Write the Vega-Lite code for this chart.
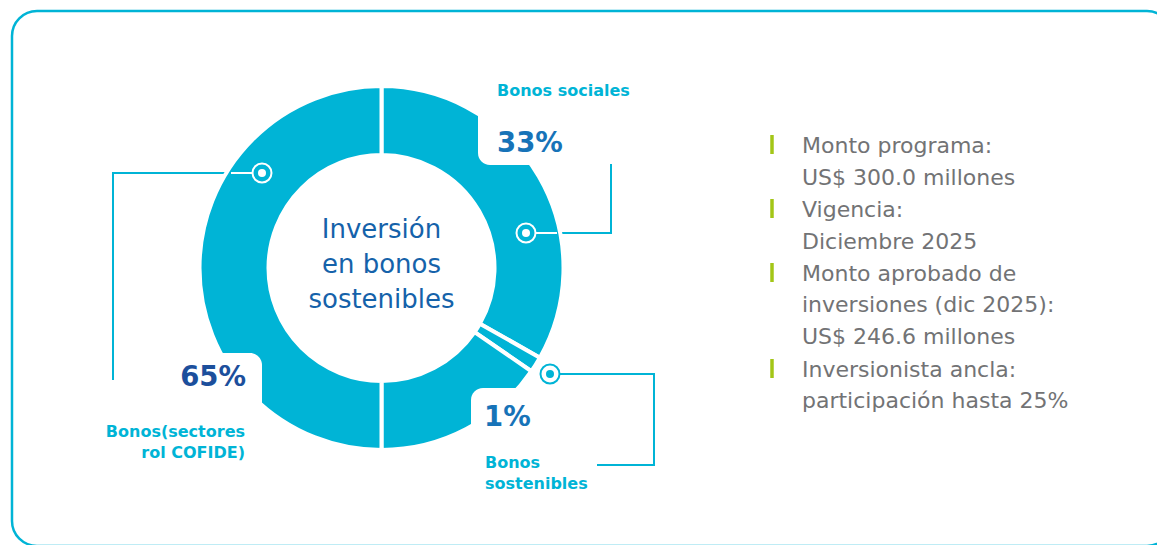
{
  "$schema": "https://vega.github.io/schema/vega-lite/v6.json",
  "width": 1160,
  "height": 535,
  "padding": {"left": 12, "top": 11, "right": 0, "bottom": 0},
  "autosize": {"type": "none"},
  "background": "#ffffff",
  "config": {
    "view": {"stroke": "#00b4d6", "strokeWidth": 2.5, "cornerRadius": 25},
    "axis": {"disable": true},
    "text": {"font": "DejaVu Sans"}
  },
  "datasets": {
    "segmentos": [
      {"orden": 1, "segmento": "Bonos sociales", "etiqueta": "33%", "valor": 33.2},
      {"orden": 2, "segmento": "Bonos\nsostenibles", "etiqueta": "1%", "valor": 1.4},
      {"orden": 3, "segmento": "Bonos(sectores\nrol COFIDE)", "etiqueta": "65%", "valor": 15.4},
      {"orden": 4, "segmento": "Bonos(sectores\nrol COFIDE)", "etiqueta": "65%", "valor": 50}
    ],
    "info": [
      {"item": 1, "texto": "Monto programa:\nUS$ 300.0 millones"},
      {"item": 2, "texto": "Vigencia:\nDiciembre 2025"},
      {"item": 3, "texto": "Monto aprobado de\ninversiones (dic 2025):\nUS$ 246.6 millones"},
      {"item": 4, "texto": "Inversionista ancla:\nparticipación hasta 25%"}
    ],
    "titulo": [{"texto": "Inversión\nen bonos\nsostenibles"}]
  },
  "layer": [
    {
      "data": {"name": "titulo"},
      "mark": {"type": "rule", "color": "#00b4d6", "strokeWidth": 2, "strokeCap": "square"},
      "encoding": {
        "x": {"datum": 113, "type": "quantitative", "scale": {"domain": [12, 1172], "zero": false, "nice": false}},
        "x2": {"datum": 240},
        "y": {"datum": 173, "type": "quantitative", "scale": {"domain": [11, 546], "zero": false, "nice": false, "reverse": true}}
      }
    },
    {
      "data": {"name": "titulo"},
      "mark": {"type": "rule", "color": "#00b4d6", "strokeWidth": 2, "strokeCap": "square"},
      "encoding": {"x": {"datum": 113, "type": "quantitative"}, "y": {"datum": 173, "type": "quantitative"}, "y2": {"datum": 379}}
    },
    {
      "data": {"name": "titulo"},
      "mark": {"type": "rule", "color": "#00b4d6", "strokeWidth": 2, "strokeCap": "square"},
      "encoding": {"x": {"datum": 545, "type": "quantitative"}, "x2": {"datum": 611}, "y": {"datum": 233, "type": "quantitative"}}
    },
    {
      "data": {"name": "titulo"},
      "mark": {"type": "rule", "color": "#00b4d6", "strokeWidth": 2, "strokeCap": "square"},
      "encoding": {"x": {"datum": 611, "type": "quantitative"}, "y": {"datum": 165, "type": "quantitative"}, "y2": {"datum": 233}}
    },
    {
      "data": {"name": "titulo"},
      "mark": {"type": "rule", "color": "#00b4d6", "strokeWidth": 2, "strokeCap": "square"},
      "encoding": {"x": {"datum": 561, "type": "quantitative"}, "x2": {"datum": 654}, "y": {"datum": 374, "type": "quantitative"}}
    },
    {
      "data": {"name": "titulo"},
      "mark": {"type": "rule", "color": "#00b4d6", "strokeWidth": 2, "strokeCap": "square"},
      "encoding": {"x": {"datum": 654, "type": "quantitative"}, "y": {"datum": 374, "type": "quantitative"}, "y2": {"datum": 465}}
    },
    {
      "data": {"name": "titulo"},
      "mark": {"type": "rule", "color": "#00b4d6", "strokeWidth": 2, "strokeCap": "square"},
      "encoding": {"x": {"datum": 598, "type": "quantitative"}, "x2": {"datum": 654}, "y": {"datum": 465, "type": "quantitative"}}
    },
    {
      "data": {"name": "segmentos"},
      "mark": {"type": "arc", "innerRadius": 113, "outerRadius": 182, "color": "#00b4d6", "stroke": "#ffffff", "strokeWidth": 4},
      "encoding": {
        "theta": {"field": "valor", "type": "quantitative", "stack": true},
        "order": {"field": "orden", "type": "quantitative"},
        "x": {"datum": 381.5, "type": "quantitative"},
        "y": {"datum": 268, "type": "quantitative"},
        "tooltip": [{"field": "segmento"}, {"field": "etiqueta"}]
      }
    },
    {
      "data": {"name": "titulo"},
      "mark": {"type": "rect", "color": "#ffffff", "cornerRadius": 12},
      "encoding": {"x": {"datum": 478, "type": "quantitative"}, "x2": {"datum": 600}, "y": {"datum": 40, "type": "quantitative"}, "y2": {"datum": 165}}
    },
    {
      "data": {"name": "titulo"},
      "mark": {"type": "rect", "color": "#ffffff", "cornerRadius": 12},
      "encoding": {"x": {"datum": 140, "type": "quantitative"}, "x2": {"datum": 262}, "y": {"datum": 353, "type": "quantitative"}, "y2": {"datum": 500}}
    },
    {
      "data": {"name": "titulo"},
      "mark": {"type": "rect", "color": "#ffffff", "cornerRadius": 12},
      "encoding": {"x": {"datum": 471, "type": "quantitative"}, "x2": {"datum": 590}, "y": {"datum": 388, "type": "quantitative"}, "y2": {"datum": 520}}
    },
    {
      "data": {"name": "titulo"},
      "mark": {"type": "rule", "color": "#ffffff", "strokeWidth": 2},
      "encoding": {"x": {"datum": 231, "type": "quantitative"}, "x2": {"datum": 252}, "y": {"datum": 173, "type": "quantitative"}}
    },
    {
      "data": {"name": "titulo"},
      "mark": {"type": "rule", "color": "#ffffff", "strokeWidth": 2},
      "encoding": {"x": {"datum": 536, "type": "quantitative"}, "x2": {"datum": 557}, "y": {"datum": 233, "type": "quantitative"}}
    },
    {
      "data": {"name": "titulo"},
      "mark": {"type": "point", "shape": "circle", "size": 361, "filled": false, "stroke": "#ffffff", "strokeWidth": 2, "opacity": 1},
      "encoding": {"x": {"datum": 262, "type": "quantitative"}, "y": {"datum": 173, "type": "quantitative"}}
    },
    {
      "data": {"name": "titulo"},
      "mark": {"type": "point", "shape": "circle", "size": 64, "filled": true, "color": "#ffffff", "opacity": 1},
      "encoding": {"x": {"datum": 262, "type": "quantitative"}, "y": {"datum": 173, "type": "quantitative"}}
    },
    {
      "data": {"name": "titulo"},
      "mark": {"type": "point", "shape": "circle", "size": 361, "filled": false, "stroke": "#ffffff", "strokeWidth": 2, "opacity": 1},
      "encoding": {"x": {"datum": 526, "type": "quantitative"}, "y": {"datum": 233, "type": "quantitative"}}
    },
    {
      "data": {"name": "titulo"},
      "mark": {"type": "point", "shape": "circle", "size": 64, "filled": true, "color": "#ffffff", "opacity": 1},
      "encoding": {"x": {"datum": 526, "type": "quantitative"}, "y": {"datum": 233, "type": "quantitative"}}
    },
    {
      "data": {"name": "titulo"},
      "mark": {"type": "point", "shape": "circle", "size": 361, "filled": false, "stroke": "#00b4d6", "strokeWidth": 2, "opacity": 1},
      "encoding": {"x": {"datum": 550, "type": "quantitative"}, "y": {"datum": 374, "type": "quantitative"}}
    },
    {
      "data": {"name": "titulo"},
      "mark": {"type": "point", "shape": "circle", "size": 64, "filled": true, "color": "#00b4d6", "opacity": 1},
      "encoding": {"x": {"datum": 550, "type": "quantitative"}, "y": {"datum": 374, "type": "quantitative"}}
    },
    {
      "data": {"name": "titulo"},
      "mark": {"type": "text", "align": "center", "baseline": "alphabetic", "lineBreak": "\n", "lineHeight": 35, "fontSize": 26, "fontWeight": "normal", "color": "#1562aa"},
      "encoding": {"text": {"field": "texto"}, "x": {"datum": 381.5, "type": "quantitative"}, "y": {"datum": 238, "type": "quantitative"}}
    },
    {
      "data": {"name": "segmentos"},
      "transform": [{"filter": "datum.orden == 1"}],
      "mark": {"type": "text", "align": "left", "baseline": "alphabetic", "fontSize": 16, "fontWeight": "bold", "color": "#00b4d6"},
      "encoding": {"text": {"field": "segmento"}, "x": {"datum": 497, "type": "quantitative"}, "y": {"datum": 96, "type": "quantitative"}}
    },
    {
      "data": {"name": "segmentos"},
      "transform": [{"filter": "datum.orden == 1"}],
      "mark": {"type": "text", "align": "left", "baseline": "alphabetic", "fontSize": 27.5, "fontWeight": "bold", "color": "#1773b8"},
      "encoding": {"text": {"field": "etiqueta"}, "x": {"datum": 497, "type": "quantitative"}, "y": {"datum": 152, "type": "quantitative"}}
    },
    {
      "data": {"name": "segmentos"},
      "transform": [{"filter": "datum.orden == 3"}],
      "mark": {"type": "text", "align": "right", "baseline": "alphabetic", "fontSize": 27.5, "fontWeight": "bold", "color": "#1c4f9c"},
      "encoding": {"text": {"field": "etiqueta"}, "x": {"datum": 246, "type": "quantitative"}, "y": {"datum": 386, "type": "quantitative"}}
    },
    {
      "data": {"name": "segmentos"},
      "transform": [{"filter": "datum.orden == 3"}],
      "mark": {"type": "text", "align": "right", "baseline": "alphabetic", "lineBreak": "\n", "lineHeight": 21, "fontSize": 16, "fontWeight": "bold", "color": "#00b4d6"},
      "encoding": {"text": {"field": "segmento"}, "x": {"datum": 245, "type": "quantitative"}, "y": {"datum": 437, "type": "quantitative"}}
    },
    {
      "data": {"name": "segmentos"},
      "transform": [{"filter": "datum.orden == 2"}],
      "mark": {"type": "text", "align": "left", "baseline": "alphabetic", "fontSize": 27.5, "fontWeight": "bold", "color": "#1773b8"},
      "encoding": {"text": {"field": "etiqueta"}, "x": {"datum": 484, "type": "quantitative"}, "y": {"datum": 426, "type": "quantitative"}}
    },
    {
      "data": {"name": "segmentos"},
      "transform": [{"filter": "datum.orden == 2"}],
      "mark": {"type": "text", "align": "left", "baseline": "alphabetic", "lineBreak": "\n", "lineHeight": 21, "fontSize": 16, "fontWeight": "bold", "color": "#00b4d6"},
      "encoding": {"text": {"field": "segmento"}, "x": {"datum": 485, "type": "quantitative"}, "y": {"datum": 468, "type": "quantitative"}}
    },
    {
      "data": {"name": "titulo"},
      "mark": {"type": "rule", "color": "#a3c617", "strokeWidth": 3.5},
      "encoding": {"x": {"datum": 772, "type": "quantitative"}, "y": {"datum": 135, "type": "quantitative"}, "y2": {"datum": 154}}
    },
    {
      "data": {"name": "titulo"},
      "mark": {"type": "rule", "color": "#a3c617", "strokeWidth": 3.5},
      "encoding": {"x": {"datum": 772, "type": "quantitative"}, "y": {"datum": 199, "type": "quantitative"}, "y2": {"datum": 218}}
    },
    {
      "data": {"name": "titulo"},
      "mark": {"type": "rule", "color": "#a3c617", "strokeWidth": 3.5},
      "encoding": {"x": {"datum": 772, "type": "quantitative"}, "y": {"datum": 263, "type": "quantitative"}, "y2": {"datum": 282}}
    },
    {
      "data": {"name": "titulo"},
      "mark": {"type": "rule", "color": "#a3c617", "strokeWidth": 3.5},
      "encoding": {"x": {"datum": 772, "type": "quantitative"}, "y": {"datum": 359, "type": "quantitative"}, "y2": {"datum": 378}}
    },
    {
      "data": {"name": "info"},
      "transform": [{"filter": "datum.item == 1"}],
      "mark": {"type": "text", "align": "left", "baseline": "alphabetic", "lineBreak": "\n", "lineHeight": 31.8, "fontSize": 22, "fontWeight": "normal", "color": "#727375"},
      "encoding": {"text": {"field": "texto"}, "x": {"datum": 802, "type": "quantitative"}, "y": {"datum": 153.3, "type": "quantitative"}}
    },
    {
      "data": {"name": "info"},
      "transform": [{"filter": "datum.item == 2"}],
      "mark": {"type": "text", "align": "left", "baseline": "alphabetic", "lineBreak": "\n", "lineHeight": 31.8, "fontSize": 22, "fontWeight": "normal", "color": "#727375"},
      "encoding": {"text": {"field": "texto"}, "x": {"datum": 802, "type": "quantitative"}, "y": {"datum": 216.9, "type": "quantitative"}}
    },
    {
      "data": {"name": "info"},
      "transform": [{"filter": "datum.item == 3"}],
      "mark": {"type": "text", "align": "left", "baseline": "alphabetic", "lineBreak": "\n", "lineHeight": 31.8, "fontSize": 22, "fontWeight": "normal", "color": "#727375"},
      "encoding": {"text": {"field": "texto"}, "x": {"datum": 802, "type": "quantitative"}, "y": {"datum": 280.5, "type": "quantitative"}}
    },
    {
      "data": {"name": "info"},
      "transform": [{"filter": "datum.item == 4"}],
      "mark": {"type": "text", "align": "left", "baseline": "alphabetic", "lineBreak": "\n", "lineHeight": 31.8, "fontSize": 22, "fontWeight": "normal", "color": "#727375"},
      "encoding": {"text": {"field": "texto"}, "x": {"datum": 802, "type": "quantitative"}, "y": {"datum": 376.7, "type": "quantitative"}}
    }
  ]
}
